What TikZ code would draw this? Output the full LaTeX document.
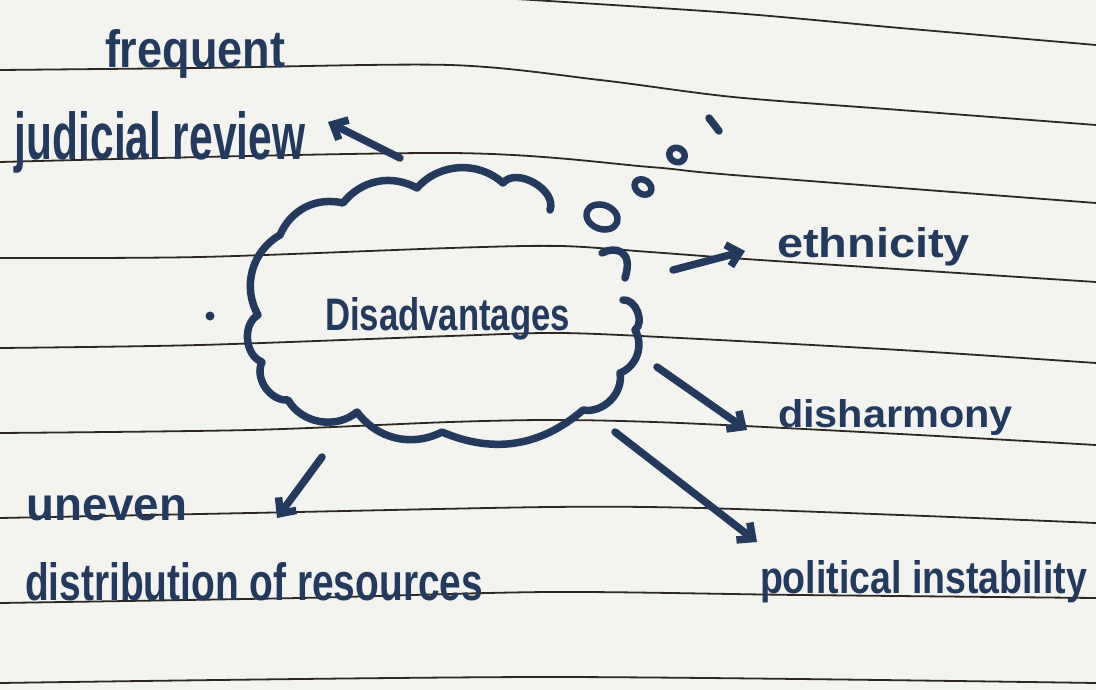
\documentclass[tikz,border=0pt]{standalone}
\usepackage{fontspec}
\setmainfont{Liberation Sans}
\usetikzlibrary{arrows.meta}
\definecolor{paper}{HTML}{F3F3F0}
\definecolor{ink}{HTML}{233A5E}
\definecolor{rulecol}{HTML}{2E2722}
\newcommand{\hw}[3]{\resizebox{#1pt}{#2pt}{\bfseries #3}}
\begin{document}
\begin{tikzpicture}[x=1pt,y=-1pt,
  ruled/.style={draw=rulecol, line width=1.8pt},
  inkline/.style={draw=ink, line width=7.5pt, line cap=round, line join=round},
  hand/.style={anchor=base west, inner sep=0pt, outer sep=0pt, text=ink},
  arr/.style={inkline, -{Straight Barb[length=12pt,width=22pt]}}]
\useasboundingbox (0,0) rectangle (1096,690);
\fill[paper] (0,0) rectangle (1096,690);
\clip (0,0) rectangle (1096,690);

% ruled lines
\draw[ruled] plot[smooth] coordinates {(500,-2) (733,13) (900,28) (1096,45)};
\draw[ruled] plot[smooth] coordinates {(0,70) (200,68) (450,65) (600,80) (733,97) (900,110) (1096,125)};
\draw[ruled] plot[smooth] coordinates {(0,162) (450,153) (650,167) (733,175) (1096,203)};
\draw[ruled] plot[smooth] coordinates {(0,258) (200,257) (450,248) (560,246) (650,252) (760,260) (1096,282)};
\draw[ruled] plot[smooth] coordinates {(0,348) (200,345) (450,336) (560,333) (680,338) (900,350) (1096,363)};
\draw[ruled] plot[smooth] coordinates {(0,433) (250,430) (450,422) (560,420) (680,423) (900,434) (1096,445)};
\draw[ruled] plot[smooth] coordinates {(0,518) (250,513) (550,507) (700,508) (900,515) (1096,523)};
\draw[ruled] plot[smooth] coordinates {(0,603) (300,598) (550,592) (800,595) (1096,598)};
\draw[ruled] plot[smooth] coordinates {(0,683) (550,677) (1096,683)};

% cloud
\draw[inkline] (550,210) to[bend right=80] (503,183) to[bend right=45] (417,188)
  to[bend right=40] (343,203) to[bend right=40] (280,235) to[bend right=45] (258,315)
  to[bend right=65] (262,362) to[bend right=60] (288,400) to[bend right=50] (357,412)
  to[bend right=40] (442,432) to[bend right=32] (583,410) to[bend right=55] (620,373)
  to[bend right=50] (635,330) to[bend right=75] (623,300);
\draw[inkline] (602,253) .. controls (615,246) and (634,250) .. (625,278);

% thought bubbles
\draw[inkline, line width=6.5pt] (602,217) ellipse[x radius=16, y radius=12, rotate=-20];
\draw[inkline, line width=6.5pt] (643,187) ellipse[x radius=9, y radius=7, rotate=-35];
\draw[inkline, line width=6.5pt] (677,155) ellipse[x radius=8, y radius=7, rotate=-30];
\coordinate (m1) at (709,118);
\coordinate (m2) at (719,131);
\draw[inkline] (m1) -- (m2);
\fill[ink] (210,316) circle[radius=4.5];

% texts
\node[hand] (frequent) at (105,68) {\hw{180}{38}{frequent}};
\node[hand] (judicial) at (15,160) {\hw{290}{48}{judicial review}};
\node[hand] (center) at (325,330) {\hw{245}{33}{Disadvantages}};
\node[hand] (ethnicity) at (777,258) {\hw{193}{30}{ethnicity}};
\node[hand] (disharmony) at (778,427) {\hw{235}{28}{disharmony}};
\node[hand] (political) at (760,593) {\hw{327}{33}{political instability}};
\node[hand] (uneven) at (27,520) {\hw{160}{25}{uneven}};
\node[hand] (distribution) at (25,600) {\hw{458}{38}{distribution of resources}};

% connectors
\coordinate (fr-s) at (400,158);
\coordinate (fr-e) at (328,122);
\coordinate (et-s) at (673,270);
\coordinate (et-e) at (745,251);
\coordinate (dh-s) at (657,367);
\coordinate (dh-e) at (747,430);
\coordinate (po-s) at (615,432);
\coordinate (po-e) at (757,542);
\coordinate (un-s) at (322,457);
\coordinate (un-e) at (277,518);
\draw[arr] (fr-s) -- (fr-e);
\draw[arr] (et-s) -- (et-e);
\draw[arr] (dh-s) -- (dh-e);
\draw[arr] (po-s) -- (po-e);
\draw[arr] (un-s) -- (un-e);
\end{tikzpicture}
\end{document}
